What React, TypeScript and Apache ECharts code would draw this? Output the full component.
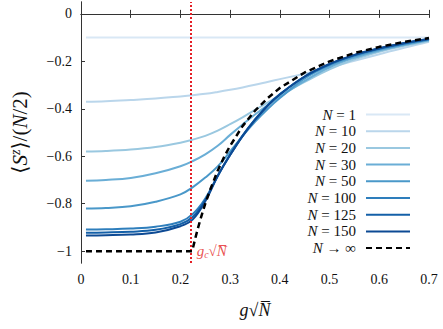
import React, { useEffect, useRef } from "react";
import * as echarts from "echarts";

// ---- data ----
const G = [0.01, 0.05, 0.1, 0.15, 0.2, 0.225, 0.25, 0.275, 0.3, 0.325, 0.35, 0.375, 0.4, 0.45, 0.5, 0.55, 0.6, 0.65, 0.7];

const N1 = [-0.1, -0.1, -0.1, -0.1, -0.1, -0.1, -0.1, -0.1, -0.1, -0.1, -0.1, -0.1, -0.1, -0.1, -0.1, -0.1, -0.1, -0.1, -0.1];
const N10 = [-0.370, -0.368, -0.363, -0.357, -0.348, -0.343, -0.337, -0.329, -0.320, -0.310, -0.299, -0.287, -0.275, -0.252, -0.226, -0.198, -0.170, -0.143, -0.118];
const N20 = [-0.580, -0.578, -0.572, -0.561, -0.543, -0.530, -0.514, -0.492, -0.465, -0.436, -0.405, -0.374, -0.344, -0.287, -0.234, -0.192, -0.160, -0.135, -0.114];
const N30 = [-0.703, -0.700, -0.692, -0.672, -0.642, -0.620, -0.592, -0.556, -0.510, -0.466, -0.424, -0.385, -0.350, -0.282, -0.225, -0.185, -0.155, -0.131, -0.111];
const N50 = [-0.820, -0.818, -0.811, -0.792, -0.761, -0.730, -0.690, -0.643, -0.580, -0.515, -0.455, -0.402, -0.355, -0.272, -0.217, -0.179, -0.150, -0.128, -0.109];
const N100 = [-0.909, -0.908, -0.905, -0.897, -0.876, -0.843, -0.778, -0.682, -0.593, -0.513, -0.445, -0.387, -0.339, -0.265, -0.213, -0.175, -0.147, -0.125, -0.107];
const N125 = [-0.922, -0.921, -0.918, -0.910, -0.886, -0.855, -0.785, -0.683, -0.594, -0.514, -0.446, -0.387, -0.339, -0.264, -0.212, -0.174, -0.146, -0.124, -0.106];
const N150 = [-0.934, -0.933, -0.930, -0.921, -0.895, -0.866, -0.790, -0.683, -0.595, -0.515, -0.447, -0.388, -0.340, -0.264, -0.211, -0.173, -0.145, -0.123, -0.105];

const LIM_X = [0.01, 0.2236, 0.23, 0.235, 0.24, 0.245, 0.25, 0.26, 0.275, 0.29, 0.3, 0.325, 0.35, 0.375, 0.4, 0.45, 0.5, 0.55, 0.6, 0.65, 0.7];
const LIM_Y = [-1, -1, -0.945, -0.905, -0.868, -0.833, -0.800, -0.740, -0.661, -0.594, -0.556, -0.473, -0.408, -0.356, -0.3125, -0.247, -0.200, -0.165, -0.139, -0.118, -0.102];

const GC = 0.2236;

const NAMES = ["N = 1", "N = 10", "N = 20", "N = 30", "N = 50", "N = 100", "N = 125", "N = 150"];
const VALUES = [N1, N10, N20, N30, N50, N100, N125, N150];
const COLORS = ["#d9e8f5", "#bad6eb", "#9ac8e0", "#6aaed6", "#4a98c9", "#2e7ebc", "#1460a8", "#0d4a94"];
const LIM_NAME = "N → ∞";

const X_TICKS = [0, 0.1, 0.2, 0.3, 0.4, 0.5, 0.6, 0.7];
const Y_TICKS = [-1, -0.8, -0.6, -0.4, -0.2, 0];

const FONT = "'Liberation Serif', 'DejaVu Serif', serif";
const INK = "#111";
const AXIS = "#333";
const RED = "#e41f26";

export default function App() {
  const ref = useRef<HTMLDivElement>(null);
  useEffect(() => {
    if (!ref.current) return;
    const chart = echarts.init(ref.current, undefined, { renderer: "svg" });
    const fmt = (v: number) => {
      const s = v === 0 ? "0" : Math.abs(v) === 1 ? (v < 0 ? "−1" : "1") : v.toFixed(1).replace("-", "−");
      return "{t|" + s + "}";
    };
    const tickRich = { t: { fontFamily: FONT, fontSize: 14, color: INK } };
    const italic = { fontStyle: "italic", fontFamily: FONT, fontSize: 15, color: INK };
    const series: any[] = NAMES.map((name, i) => ({
      name,
      type: "line",
      data: G.map((x, j) => [x, VALUES[i][j]]),
      symbol: "none",
      smooth: 0.4,
      lineStyle: { color: COLORS[i], width: 2 },
      itemStyle: { color: COLORS[i] },
    }));
    series.push({
      name: LIM_NAME,
      type: "line",
      data: LIM_X.map((x, j) => [x, LIM_Y[j]]),
      symbol: "none",
      lineStyle: { color: "#000", width: 2.5, type: [6, 4] },
      itemStyle: { color: "#000" },
      z: 5,
      markLine: {
        silent: true,
        symbol: "none",
        label: { show: false },
        lineStyle: { color: RED, width: 2, type: [2, 2] },
        data: [{ xAxis: GC }],
      },
    });
    series.push({
      name: "gc",
      type: "scatter",
      data: [[GC, -1]],
      symbolSize: 1,
      itemStyle: { color: "rgba(0,0,0,0)" },
      label: {
        show: true,
        position: "right",
        distance: 4,
        formatter: "{i|g}{sub|c}{n|√}{i|N̅}",
        rich: {
          i: { fontStyle: "italic", fontFamily: FONT, fontSize: 15, color: RED },
          sub: { fontStyle: "italic", fontFamily: FONT, fontSize: 10, color: RED, padding: [6, 0, 0, 0] },
          n: { fontFamily: FONT, fontSize: 15, color: RED },
        },
      },
      z: 6,
    });

    chart.setOption({
      animation: false,
      backgroundColor: "#fff",
      grid: { left: 81, right: 14, top: 2, bottom: 66 },
      legend: {
        data: [...NAMES, LIM_NAME],
        orient: "vertical",
        right: 32,
        top: 107,
        padding: 0,
        align: "right",
        itemWidth: 44,
        itemHeight: 14,
        itemGap: 1.7,
        itemStyle: { opacity: 0 },
        lineStyle: { width: 2 },
        formatter: (name: string) => name.replace("N", "{i|N}"),
        textStyle: {
          fontFamily: FONT,
          fontSize: 15,
          color: INK,
          width: 62,
          align: "right",
          padding: [0, 5, 0, 0],
          rich: { i: italic },
        },
      },
      xAxis: [
        {
          type: "value",
          min: 0,
          max: 0.7,
          interval: 0.1,
          position: "bottom",
          axisLine: { lineStyle: { color: AXIS, width: 1 } },
          axisTick: { inside: true, length: 4, lineStyle: { color: AXIS } },
          axisLabel: { fontFamily: FONT, fontSize: 14, color: INK, margin: 9, formatter: fmt, customValues: X_TICKS, rich: tickRich },
          splitLine: { show: false },
          name: "{i|g}{n|√}{i|N̅}",
          nameLocation: "middle",
          nameGap: 38,
          nameTextStyle: {
            fontFamily: FONT,
            rich: {
              i: { fontStyle: "italic", fontFamily: FONT, fontSize: 18, color: INK },
              n: { fontFamily: FONT, fontSize: 18, color: INK },
            },
          },
        },
        {
          type: "value",
          min: 0,
          max: 0.7,
          interval: 0.1,
          position: "top",
          axisLine: { lineStyle: { color: AXIS, width: 1 } },
          axisTick: { inside: true, length: 4, lineStyle: { color: AXIS } },
          axisLabel: { show: false },
          splitLine: { show: false },
        },
      ],
      yAxis: [
        {
          type: "value",
          min: -1.05,
          max: 0.05,
          position: "left",
          axisLine: { show: true, lineStyle: { color: AXIS, width: 1 } },
          axisTick: { show: true, inside: true, length: 4, lineStyle: { color: AXIS }, customValues: Y_TICKS },
          axisLabel: { fontFamily: FONT, fontSize: 14, color: INK, margin: 9, formatter: fmt, customValues: Y_TICKS, rich: tickRich },
          splitLine: { show: false },
          name: "{n|⟨}{i|S}{sup|z}{n|⟩/(}{i|N}{n|/2)}",
          nameLocation: "middle",
          nameRotate: 90,
          nameGap: 50,
          nameTextStyle: {
            fontFamily: FONT,
            fontSize: 21,
            color: INK,
            rich: {
              n: { fontFamily: FONT, fontSize: 21, color: INK },
              i: { fontStyle: "italic", fontFamily: FONT, fontSize: 21, color: INK },
              sup: { fontStyle: "italic", fontFamily: FONT, fontSize: 14, color: INK, padding: [0, 0, 9, 0] },
            },
          },
        },
        {
          type: "value",
          min: -1.05,
          max: 0.05,
          position: "right",
          axisLine: { show: true, lineStyle: { color: AXIS, width: 1 } },
          axisTick: { show: false },
          axisLabel: { show: false },
          splitLine: { show: false },
        },
      ],
      series,
    });
    return () => chart.dispose();
  }, []);
  return <div ref={ref} style={{ width: 443, height: 329, position: "absolute", left: 0, top: 0 }} />;
}
